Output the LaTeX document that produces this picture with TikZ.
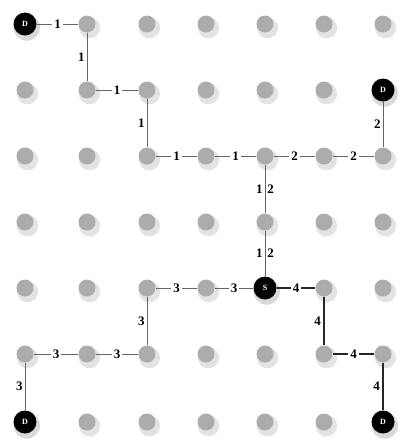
\documentclass[tikz,border=0pt]{standalone}
\usepackage{fontspec}
\setmainfont{Liberation Serif}
\usetikzlibrary{shadows}
\begin{document}
\begin{tikzpicture}[x=1pt,y=-1pt,
  dot/.style={circle,minimum size=17pt,inner sep=0pt,fill=gray!65,
    drop shadow={shadow xshift=2pt,shadow yshift=-3pt,fill=gray!22,opacity=1,shadow scale=1.25}},
  term/.style={circle,minimum size=23pt,inner sep=0pt,fill=black,text=white,
    font=\fontsize{8}{8}\selectfont\bfseries,
    drop shadow={shadow xshift=1.5pt,shadow yshift=-3pt,fill=gray!30,opacity=1,shadow scale=1.15}},
  edge/.style={draw=black!60,line width=0.8pt},
  thick4/.style={draw=black!85,line width=2.2pt},
  hlab/.style={fill=white,inner sep=2pt,font=\fontsize{13}{13}\selectfont\bfseries},
  vlab/.style={inner sep=2pt,font=\fontsize{13}{13}\selectfont\bfseries}]
\useasboundingbox (0,0) rectangle (400,448);
\def\cx{{25,87,147,206,265,324,383}}
\def\ry{{24,90,156,222,288,354,422}}
\foreach \i in {0,...,6}{
  \foreach \j in {0,...,6}{
    \pgfmathsetmacro\xx{\cx[\i]}
    \pgfmathsetmacro\yy{\ry[\j]}
    \coordinate (p\i\j) at (\xx,\yy);
  }
}
\foreach \i/\j in {1/0,2/0,3/0,4/0,5/0,6/0,
                   0/1,1/1,2/1,3/1,4/1,5/1,
                   0/2,1/2,2/2,3/2,4/2,5/2,6/2,
                   0/3,1/3,2/3,3/3,4/3,5/3,6/3,
                   0/4,1/4,2/4,3/4,5/4,6/4,
                   0/5,1/5,2/5,3/5,4/5,5/5,6/5,
                   1/6,2/6,3/6,4/6,5/6}{
  \node[dot] (n\i\j) at (p\i\j) {};
}
\node[term] (n00) at (p00) {D};
\node[term] (n61) at (p61) {D};
\node[term] (n44) at (p44) {S};
\node[term] (n06) at (p06) {D};
\node[term] (n66) at (p66) {D};
% path 1
\draw[edge] (n00) -- node[hlab]{1} (n10);
\draw[edge] (n10) -- node[vlab,left]{1} (n11);
\draw[edge] (n11) -- node[hlab]{1} (n21);
\draw[edge] (n21) -- node[vlab,left]{1} (n22);
\draw[edge] (n22) -- node[hlab]{1} (n32);
\draw[edge] (n32) -- node[hlab]{1} (n42);
% path 2
\draw[edge] (n42) -- node[hlab]{2} (n52);
\draw[edge] (n52) -- node[hlab]{2} (n62);
\draw[edge] (n62) -- node[vlab,left]{2} (n61);
% shared 1|2
\draw[edge] (n42) -- node[vlab,left]{1} node[vlab,right]{2} (n43);
\draw[edge] (n43) -- node[vlab,left]{1} node[vlab,right]{2} (n44);
% path 3
\draw[edge] (n44) -- node[hlab]{3} (n34);
\draw[edge] (n34) -- node[hlab]{3} (n24);
\draw[edge] (n24) -- node[vlab,left]{3} (n25);
\draw[edge] (n25) -- node[hlab]{3} (n15);
\draw[edge] (n15) -- node[hlab]{3} (n05);
\draw[edge] (n05) -- node[vlab,left]{3} (n06);
% path 4
\draw[thick4] (n44) -- node[hlab]{4} (n54);
\draw[thick4] (n54) -- node[vlab,left]{4} (n55);
\draw[thick4] (n55) -- node[hlab]{4} (n65);
\draw[thick4] (n65) -- node[vlab,left]{4} (n66);
\end{tikzpicture}
\end{document}
